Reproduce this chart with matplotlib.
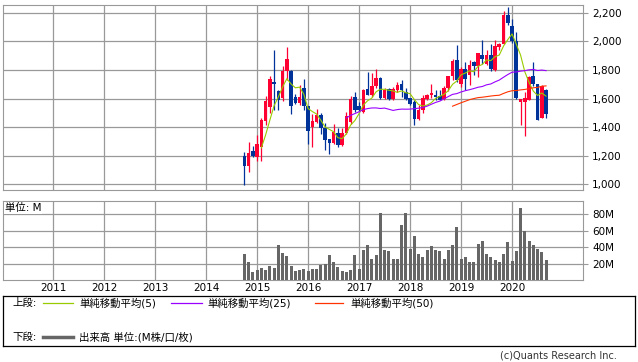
import matplotlib
matplotlib.use('Agg')
import matplotlib.pyplot as plt
import pandas as pd
import numpy as np

# monthly candles, Oct 2014 - Sep 2020
months = pd.period_range('2014-10', '2020-09', freq='M')
open_ = [1197, 1130, 1232, 1193, 1263, 1444, 1542, 1719, 1653, 1607, 1795, 1795,
         1612, 1570, 1677, 1546, 1398, 1437, 1484, 1395, 1316, 1290, 1360, 1274,
         1360, 1437, 1609, 1546, 1507, 1665, 1623, 1686, 1746, 1607, 1665, 1595,
         1658, 1700, 1647, 1602, 1577, 1460, 1518, 1600, 1623, 1628, 1618, 1600,
         1677, 1756, 1867, 1705, 1809, 1763, 1856, 1828, 1902, 1844, 1902, 1802,
         1963, 1984, 2188, 2105, 2002, 1577, 1577, 1588, 1756, 1700, 1465, 1663]
high = [1228, 1293, 1265, 1344, 1467, 1616, 1760, 1937, 1660, 1830, 1960, 1800,
        1630, 1695, 1735, 1550, 1490, 1530, 1500, 1430, 1320, 1421, 1393, 1393,
        1507, 1618, 1644, 1577, 1670, 1784, 1779, 1805, 1750, 1677, 1677, 1680,
        1716, 1733, 1677, 1605, 1588, 1553, 1623, 1635, 1700, 1663, 1663, 1686,
        1756, 1879, 1972, 1821, 1856, 1867, 1863, 1919, 2007, 1937, 1984, 2012,
        1988, 2216, 2244, 2158, 2065, 1600, 1646, 1756, 1856, 1700, 1698, 1670]
low = [995, 1088, 1190, 1163, 1160, 1414, 1500, 1518, 1518, 1580, 1728, 1495,
       1565, 1555, 1518, 1279, 1263, 1430, 1349, 1239, 1209, 1280, 1263, 1270,
       1355, 1425, 1507, 1507, 1500, 1625, 1612, 1677, 1598, 1595, 1590, 1588,
       1647, 1612, 1588, 1555, 1414, 1453, 1500, 1588, 1607, 1588, 1588, 1588,
       1653, 1728, 1716, 1681, 1658, 1693, 1763, 1751, 1844, 1833, 1793, 1793,
       1940, 1984, 2112, 1988, 1600, 1414, 1337, 1588, 1686, 1449, 1465, 1465]
close = [1130, 1216, 1197, 1281, 1449, 1581, 1735, 1705, 1588, 1795, 1874, 1549,
         1570, 1612, 1546, 1374, 1444, 1484, 1395, 1309, 1290, 1363, 1274, 1360,
         1477, 1595, 1523, 1518, 1658, 1628, 1690, 1742, 1607, 1658, 1595, 1665,
         1693, 1658, 1595, 1560, 1460, 1518, 1607, 1628, 1640, 1612, 1593, 1677,
         1756, 1860, 1728, 1809, 1740, 1833, 1828, 1919, 1874, 1902, 1805, 1965,
         1979, 2188, 2128, 2002, 1607, 1600, 1605, 1751, 1700, 1453, 1686, 1495]
volume = [32, 22, 10, 12, 15, 12, 17, 15, 42, 33, 29, 17, 11,
          12, 13, 11, 13, 13, 18, 20, 30, 22, 16, 11, 10, 12, 30, 13, 36, 42, 26,
          30, 81, 36, 35, 25, 26, 67, 82, 38, 54, 31, 28, 36, 41, 37, 35, 25, 36,
          43, 64, 26, 28, 22, 22, 44, 48, 32, 28, 24, 22, 32, 46, 23, 35, 88, 60,
          47, 43, 38, 34, 24]
years = list(range(2011, 2021))
ma_periods = [5, 25, 50]
ma_colors = ['#99CC00', '#9900FF', '#FF3300']

plt.rcParams['font.family'] = ['DejaVu Sans', 'Noto Sans CJK JP']
GRID = '#999999'
W, H = 638, 362

fig = plt.figure(figsize=(W / 100, H / 100), dpi=100)


def px_axes(l, t, r, b):
    return fig.add_axes([l / W, 1 - b / H, (r - l) / W, (b - t) / H])


x = np.array([(p.year - 2010) * 12 + p.month - 1 for p in months])
o = np.array(open_)
c = np.array(close)
col = np.where(c >= o, '#FF0033', '#003399')
year_x = [(y - 2010) * 12 for y in years]

# price panel
ax = px_axes(3, 5, 583, 190)
ax.set_xlim(0.2, 136.7)
ax.set_ylim(960, 2255)
ax.vlines(x, low, high, colors=col, lw=0.9, zorder=3)
ax.bar(x, np.maximum(np.abs(c - o), 3), bottom=np.minimum(o, c), width=0.85,
       color=col, zorder=4)
cs = pd.Series(close, dtype=float)
for n, mc in zip(ma_periods, ma_colors):
    ax.plot(x, cs.rolling(n).mean(), color=mc, lw=0.8, zorder=5)
ax.set_yticks(range(1000, 2201, 200))
ax.set_yticklabels([f'{v:,}' for v in range(1000, 2201, 200)])
ax.set_xticks(year_x)
ax.set_xticklabels([])
ax.yaxis.tick_right()
ax.tick_params(axis='y', length=3.6, color=GRID, labelsize=7.5, pad=3)
ax.tick_params(axis='x', length=0)
ax.grid(color=GRID, lw=0.9)
ax.set_axisbelow(True)
for s in ax.spines.values():
    s.set_color(GRID)

# volume panel
vx = px_axes(3, 201, 583, 280)
vx.set_xlim(0.2, 136.7)
vx.set_ylim(0, 96)
vx.bar(x, volume, width=0.7, color='#666666', zorder=3)
vx.set_yticks([20, 40, 60, 80])
vx.set_yticklabels(['20M', '40M', '60M', '80M'])
vx.set_xticks(year_x)
vx.set_xticklabels([str(y) for y in years])
vx.yaxis.tick_right()
vx.tick_params(axis='y', length=3.6, color=GRID, labelsize=7.5, pad=3)
vx.tick_params(axis='x', length=0, labelsize=7.5, pad=2)
vx.grid(color=GRID, lw=0.9)
vx.set_axisbelow(True)
for s in vx.spines.values():
    s.set_color(GRID)
vx.text(0.003, 0.975, '単位: M', transform=vx.transAxes, va='top', ha='left',
        fontsize=7.5, zorder=6,
        bbox=dict(facecolor='white', edgecolor='none', pad=0.5))

# legend box
lg = px_axes(3, 296, 635, 346)
lg.set_xlim(3, 635)
lg.set_ylim(346, 296)
lg.set_xticks([])
lg.set_yticks([])
for s in lg.spines.values():
    s.set_color('black')
    s.set_linewidth(0.9)
fs = 7.5
lg.text(12, 303, '上段:', va='center', fontsize=fs)
items = [(43, 73, 79, '単純移動平均(5)'),
         (171, 202, 207, '単純移動平均(25)'),
         (315, 343, 350, '単純移動平均(50)')]
for (x0, x1, tx, label), mc in zip(items, ma_colors):
    lg.plot([x0, x1], [303, 303], color=mc, lw=0.9)
    lg.text(tx, 303, label, va='center', fontsize=fs)
lg.text(12, 337, '下段:', va='center', fontsize=fs)
lg.plot([43, 73], [337, 337], color='#666666', lw=2.5)
lg.text(79, 337, '出来高 単位:(M株/口/枚)', va='center', fontsize=fs)

fig.text(617 / W, 1 - 356 / H, '(c)Quants Research Inc.', ha='right',
         va='center', fontsize=7, color='#333333')

fig.savefig('out.png', dpi=100)
